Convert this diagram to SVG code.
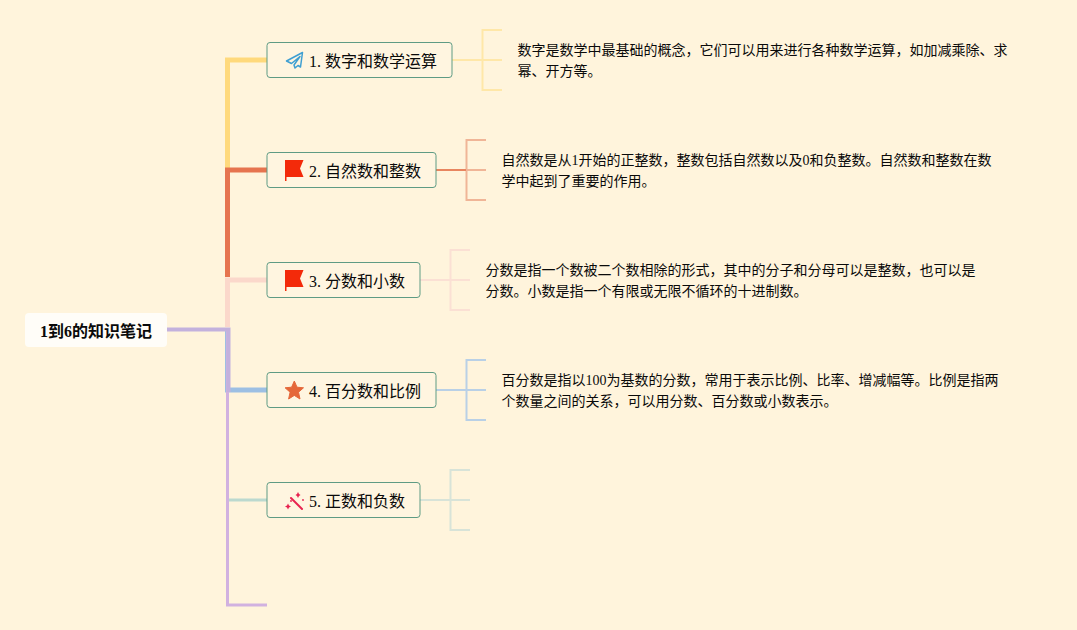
<svg xmlns="http://www.w3.org/2000/svg" width="1077" height="630" viewBox="0 0 1077 630">
<style>
text{font-family:"Liberation Serif","Noto Sans CJK SC",serif;fill:#0a0a0a}
.box{fill:#fff5e0;stroke:#5f9b84;stroke-width:1}
.n{font-size:16px}
.d{font-size:14px}
.l{fill:none;stroke-linejoin:miter}
</style>
<rect width="1077" height="630" fill="#fff4dc"/>
<g id="connectors">
<path class="l" d="M267 60H227.500V170" stroke="#ffd97c" stroke-width="5"/>
<path class="l" d="M267 170H227.500V277" stroke="#e6744f" stroke-width="5"/>
<path class="l" d="M267 280H227.500V327" stroke="#fbd8cb" stroke-width="5"/>
<path class="l" d="M267 390H227.500V330" stroke="#9dbfe3" stroke-width="5"/>
<path class="l" d="M267 500H227" stroke="#bcd9cf" stroke-width="3"/>
<path class="l" d="M267 605H227.500V330" stroke="#d1b1e0" stroke-width="3"/>
<path class="l" d="M167 329.500H228.500V392" stroke="#c3b1dd" stroke-width="4"/>
<path class="l" d="M452 60H502M502 30H482.500V90H502" stroke="#ffe7a8" stroke-width="2"/>
<path class="l" d="M466 170H486M486 140H466.500V200H486" stroke="#f0b597" stroke-width="2"/>
<path class="l" d="M436 170H466" stroke="#e8855f" stroke-width="2"/>
<path class="l" d="M420 280H470M470 250H450.500V310H470" stroke="#fbe0d4" stroke-width="2"/>
<path class="l" d="M436 390H486M486 360H466.500V420H486" stroke="#b9d0e6" stroke-width="2"/>
<path class="l" d="M420 500H470M470 470H450.500V530H470" stroke="#d8e3d8" stroke-width="2"/>
</g>
<g id="root">
<rect x="25" y="313" width="142" height="34" rx="4" fill="#fffdf8"/>
<text x="96" y="337" text-anchor="middle" font-size="16" font-weight="700">1到6的知识笔记</text>
</g>
<g id="node1">
<rect class="box" x="267" y="42.500" width="185" height="35" rx="3"/>
<path d="M302.500 52.500L286.500 61L291.500 63.500L300 56.500L294 65L295 68L298 65.500L300.500 67Z" fill="none" stroke="#3f9fd2" stroke-width="1.500" stroke-linejoin="round"/>
<text class="n" x="309" y="67">1. 数字和数学运算</text>
</g>
<g id="detail1">
<text class="d" x="517.500" y="55">数字是数学中最基础的概念，它们可以用来进行各种数学运算，如加减乘除、求</text>
<text class="d" x="517.500" y="76">幂、开方等。</text>
</g>
<g id="node2">
<rect class="box" x="267" y="152.500" width="169" height="35" rx="3"/>
<path d="M285 160H303.500L300 168.500L303.500 177H286.500V181H285Z" fill="#f32a0a"/>
<text class="n" x="309" y="177">2. 自然数和整数</text>
</g>
<g id="detail2">
<text class="d" x="501.500" y="165">自然数是从1开始的正整数，整数包括自然数以及0和负整数。自然数和整数在数</text>
<text class="d" x="501.500" y="186">学中起到了重要的作用。</text>
</g>
<g id="node3">
<rect class="box" x="267" y="262.500" width="153" height="35" rx="3"/>
<path d="M285 270H303.500L300 278.500L303.500 287H286.500V291H285Z" fill="#f32a0a"/>
<text class="n" x="309" y="287">3. 分数和小数</text>
</g>
<g id="detail3">
<text class="d" x="485.500" y="275">分数是指一个数被二个数相除的形式，其中的分子和分母可以是整数，也可以是</text>
<text class="d" x="485.500" y="296">分数。小数是指一个有限或无限不循环的十进制数。</text>
</g>
<g id="node4">
<rect class="box" x="267" y="372.500" width="169" height="35" rx="3"/>
<path d="M294.300 381L297 387.200L303.500 387.800L298.500 392.200L300 399L294.300 395.400L288.600 399L290.100 392.200L285.100 387.800L291.600 387.200Z" fill="#e5683a" stroke="#e5683a" stroke-linejoin="round"/>
<text class="n" x="309" y="397">4. 百分数和比例</text>
</g>
<g id="detail4">
<text class="d" x="501.500" y="385">百分数是指以100为基数的分数，常用于表示比例、比率、增减幅等。比例是指两</text>
<text class="d" x="501.500" y="406">个数量之间的关系，可以用分数、百分数或小数表示。</text>
</g>
<g id="node5">
<rect class="box" x="267" y="482.500" width="153" height="35" rx="3"/>
<path d="M291 498L302 509" stroke="#e8234f" stroke-width="2" stroke-linecap="round"/>
<path d="M288 503.500L289 505.500L291 506.500L289 507.500L288 509.500L287 507.500L285 506.500L287 505.500ZM298 492L299 494L300.500 495L299 496L298 498L297 496L295.500 495L297 494Z" fill="#e8234f"/>
<circle cx="291" cy="501" r="0.900" fill="#e8234f"/>
<circle cx="303" cy="500" r="0.900" fill="#e8234f"/>
<text class="n" x="309" y="507">5. 正数和负数</text>
</g>
</svg>
